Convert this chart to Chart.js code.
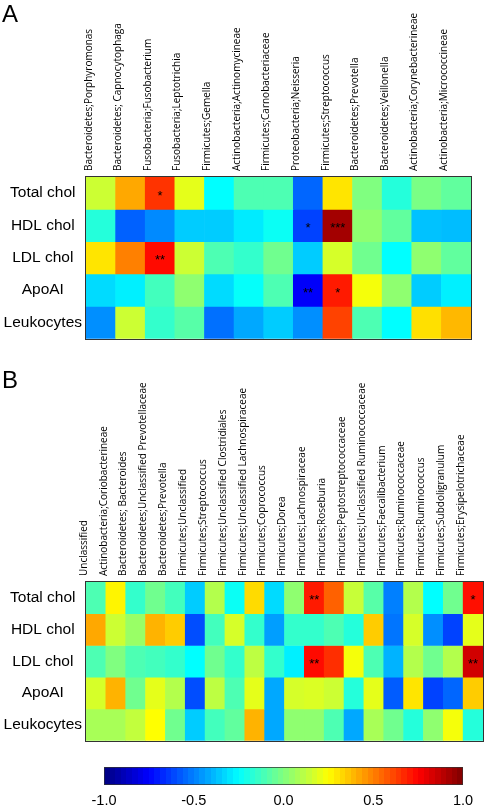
<!DOCTYPE html>
<html>
<head>
<meta charset="utf-8">
<script src="https://cdn.jsdelivr.net/npm/chart.js@4/dist/chart.umd.min.js"></script>
<style>
  html, body { margin: 0; padding: 0; background: #fff; }
  body { width: 484px; height: 808px; position: relative; overflow: hidden; font-family: "Liberation Sans", Arial, sans-serif; }
  .box { position: absolute; left: 0; width: 484px; }
  .letter { position: absolute; left: 2px; font-size: 24px; line-height: 24px; color: #000; }
</style>
</head>
<body>
<div class="box" style="top:0;height:352px"><canvas id="chartA"></canvas></div>
<div class="box" style="top:356px;height:398px"><canvas id="chartB"></canvas></div>
<div class="box" style="top:760px;height:48px"><canvas id="colorbar"></canvas></div>
<div class="letter" style="top:2px">A</div>
<div class="letter" style="top:368px">B</div>
<script>
// Lignes communes aux deux panneaux
const rowNames = ['Total chol', 'HDL chol', 'LDL chol', 'ApoAI', 'Leukocytes'];

// Panneau A : flore buccale
const colsA = [
    'Bacteroidetes;Porphyromonas', 'Bacteroidetes; Capnocytophaga', 'Fusobacteria;Fusobacterium',
    'Fusobacteria;Leptotrichia', 'Firmicutes;Gemella', 'Actinobacteria;Actinomycineae',
    'Firmicutes;Carnobacteriaceae', 'Proteobacteria;Neisseria', 'Firmicutes;Streptococcus',
    'Bacteroidetes;Prevotella', 'Bacteroidetes;Veillonella', 'Actinobacteria;Corynebacterineae',
    'Actinobacteria;Micrococcineae'
];
const valsA = [
    [0.15, 0.42, 0.65, 0.20, -0.25, -0.10, -0.10, -0.55, 0.30, 0.00, -0.18, -0.01, -0.06],
    [-0.18, -0.56, -0.48, -0.35, -0.35, -0.29, -0.23, -0.62, 0.93, 0.03, -0.06, -0.37, -0.38],
    [0.30, 0.50, 0.73, 0.15, -0.10, -0.15, -0.03, -0.35, 0.17, -0.03, -0.25, 0.03, -0.06],
    [-0.32, -0.28, -0.12, 0.03, -0.32, -0.24, -0.10, -0.76, 0.70, 0.23, 0.03, -0.35, -0.28],
    [-0.47, 0.15, -0.15, -0.08, -0.53, -0.42, -0.35, -0.47, 0.62, -0.10, -0.25, 0.31, 0.39]
];
// [ligne, colonne, signification]
const marksA = [[0, 2, '*'], [1, 7, '*'], [1, 8, '***'], [2, 2, '**'], [3, 7, '**'], [3, 8, '*']];

// Panneau B : flore intestinale
const colsB = [
    'Unclassified', 'Actinobacteria;Coriobacterineae', 'Bacteroidetes; Bacteroides',
    'Bacteroidetes;Unclassified Prevotellaceae', 'Bacteroidetes;Prevotella', 'Firmicutes;Unclassified',
    'Firmicutes;Streptococcus', 'Firmicutes;Unclassified Clostridiales', 'Firmicutes;Unclassified Lachnospiraceae',
    'Firmicutes;Coprococcus', 'Firmicutes;Dorea', 'Firmicutes;Lachnospiraceae', 'Firmicutes;Roseburia',
    'Firmicutes;Peptostreptococcaceae', 'Firmicutes;Unclassified Ruminococcaceae', 'Firmicutes;Faecalibacterium',
    'Firmicutes;Ruminococcaceae', 'Firmicutes;Ruminococcus', 'Firmicutes;Subdoligranulum',
    'Firmicutes;Erysipelotrichaceae'
];
const valsB = [
    [-0.10, 0.27, -0.15, -0.03, -0.12, -0.35, 0.10, -0.23, 0.32, -0.32, 0.03, 0.70, 0.56, 0.14, -0.08, -0.50, 0.10, -0.25, -0.03, 0.72],
    [0.42, 0.15, 0.05, 0.40, 0.35, -0.60, -0.12, 0.17, -0.15, -0.44, -0.15, -0.15, -0.10, -0.18, 0.35, -0.52, 0.17, -0.47, -0.62, 0.20],
    [-0.10, 0.00, -0.10, -0.12, -0.15, -0.25, -0.03, -0.15, 0.12, -0.15, -0.28, 0.73, 0.66, 0.23, -0.10, -0.40, 0.10, -0.03, 0.10, 0.84],
    [0.17, 0.40, -0.03, 0.20, 0.10, -0.60, 0.12, -0.10, 0.20, -0.42, 0.17, 0.18, 0.15, -0.18, 0.20, -0.57, 0.30, -0.62, -0.55, 0.35],
    [0.08, 0.08, 0.13, 0.25, -0.03, -0.35, -0.12, -0.06, 0.40, -0.42, 0.03, 0.03, -0.10, -0.42, 0.08, -0.03, -0.18, 0.03, 0.23, -0.18]
];
const marksB = [[0, 11, '**'], [0, 19, '*'], [2, 11, '**'], [2, 19, '**']];

// Barre de couleur
const cbTicks = [-1.0, -0.5, 0.0, 0.5, 1.0];
const cbLevels = 64;

// Palette "jet" (x entre 0 et 1)
function jetRGB(x) {
    const c = k => Math.round(255 * Math.max(0, Math.min(1, 1.5 - Math.abs(4 * x - k))));
    return `rgb(${c(3)}, ${c(2)}, ${c(1)})`;
}
const jet = v => jetRGB((v + 1) / 2);

function jetGradient(chart) {
    const a = chart.chartArea;
    if (!a) return '#80ff80';
    const g = chart.ctx.createLinearGradient(a.left, 0, a.right, 0);
    for (let i = 0; i < cbLevels; i++) {
        const col = jetRGB((i + 0.5) / cbLevels);
        g.addColorStop(i / cbLevels, col);
        g.addColorStop((i + 1) / cbLevels, col);
    }
    return g;
}

// Étoiles de significativité + cadre du graphique
const cellMarks = {
    id: 'cellMarks',
    afterDatasetsDraw(chart, args, opts) {
        const { ctx, chartArea: a } = chart;
        ctx.save();
        ctx.fillStyle = '#000';
        ctx.font = '13px "Liberation Sans", Arial, sans-serif';
        ctx.textAlign = 'center';
        ctx.textBaseline = 'middle';
        (opts.marks || []).forEach(([r, c, s]) => {
            const p = chart.getDatasetMeta(r).data[c].getCenterPoint();
            ctx.fillText(s, p.x, p.y + 3);
        });
        ctx.strokeStyle = '#333';
        ctx.lineWidth = 1;
        ctx.strokeRect(Math.round(a.left) - 0.5, Math.round(a.top) - 0.5,
            Math.round(a.right - a.left) + 1, Math.round(a.bottom - a.top) + 1);
        ctx.restore();
    }
};

function heatmap(id, cols, vals, marks, axisHeight, padding) {
    return new Chart(document.getElementById(id), {
        type: 'bar',
        data: {
            labels: cols,
            datasets: rowNames.map((row, r) => ({
                label: row,
                data: cols.map(() => 1),
                backgroundColor: vals[r].map(jet),
                borderWidth: 0,
                barPercentage: 1,
                categoryPercentage: 1
            }))
        },
        options: {
            responsive: true,
            maintainAspectRatio: false,
            animation: false,
            layout: { padding: padding },
            plugins: {
                legend: { display: false },
                tooltip: { enabled: false },
                cellMarks: { marks: marks }
            },
            scales: {
                x: {
                    position: 'top',
                    stacked: true,
                    grid: { display: false, drawTicks: false },
                    border: { display: false },
                    ticks: {
                        autoSkip: false,
                        minRotation: 90,
                        maxRotation: 90,
                        padding: 6,
                        color: '#000',
                        font: { family: '"Open Sans"', size: 10 }
                    },
                    afterFit: s => { s.height = axisHeight; }
                },
                y: {
                    stacked: true,
                    min: 0,
                    max: rowNames.length,
                    reverse: true,
                    grid: { display: false, drawTicks: false },
                    border: { display: false },
                    afterBuildTicks: s => { s.ticks = rowNames.map((_, i) => ({ value: i + 0.5 })); },
                    ticks: {
                        callback: v => rowNames[Math.floor(v)],
                        crossAlign: 'center',
                        padding: 4,
                        color: '#000',
                        font: { family: '"Liberation Sans", Arial', size: 15.5 }
                    },
                    afterFit: s => { s.width = 86; }
                }
            }
        },
        plugins: [cellMarks]
    });
}

heatmap('chartA', colsA, valsA, marksA, 177, { top: 0, right: 13, bottom: 5, left: 0 });
heatmap('chartB', colsB, valsB, marksB, 226, { top: 0, right: 1, bottom: 2, left: 0 });

new Chart(document.getElementById('colorbar'), {
    type: 'bar',
    data: {
        labels: [''],
        datasets: [{
            data: [[cbTicks[0], cbTicks[cbTicks.length - 1]]],
            backgroundColor: c => jetGradient(c.chart),
            borderColor: '#333',
            borderWidth: 1,
            borderSkipped: false,
            barPercentage: 1,
            categoryPercentage: 1
        }]
    },
    options: {
        indexAxis: 'y',
        responsive: true,
        maintainAspectRatio: false,
        animation: false,
        layout: { padding: { top: 7, right: 21, bottom: 0, left: 104 } },
        plugins: { legend: { display: false }, tooltip: { enabled: false } },
        scales: {
            x: {
                type: 'linear',
                min: cbTicks[0],
                max: cbTicks[cbTicks.length - 1],
                grid: { display: false, drawTicks: false },
                border: { display: false },
                afterBuildTicks: s => { s.ticks = cbTicks.map(v => ({ value: v })); },
                ticks: {
                    callback: v => v.toFixed(1),
                    padding: 7,
                    color: '#000',
                    font: { family: '"Liberation Sans", Arial', size: 14.5 }
                },
                afterFit: s => { s.height = 23; }
            },
            y: { display: false }
        }
    }
});
</script>
</body>
</html>
